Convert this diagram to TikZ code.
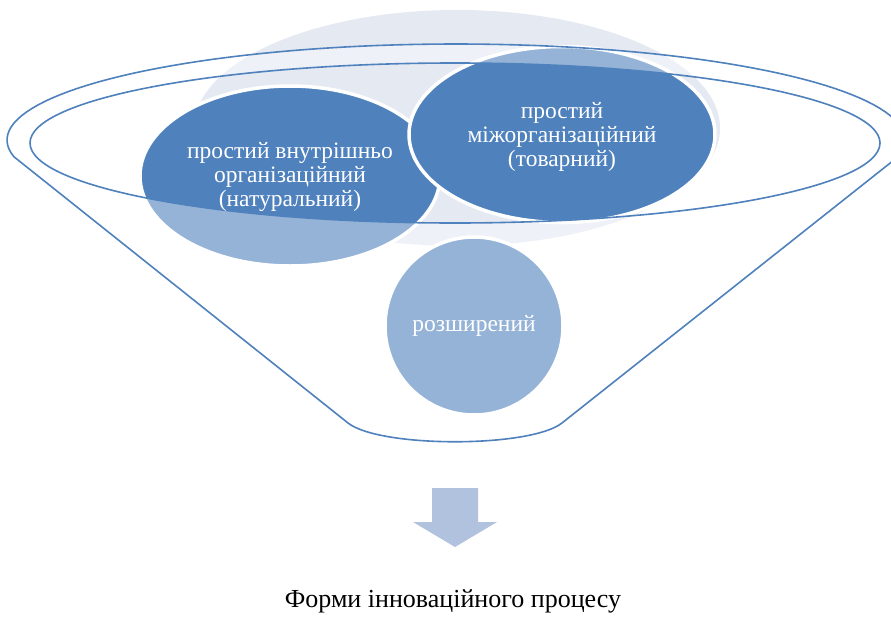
\documentclass[tikz,border=0pt]{standalone}
\usepackage{fontspec}
\setmainfont{Liberation Serif}
\usetikzlibrary{shapes.geometric}
\definecolor{accent}{HTML}{4F81BD}
\definecolor{bgell}{HTML}{E4E9F2}
\definecolor{arrowc}{HTML}{B1C2DE}
\tikzset{
  bubble/.style={ellipse, fill=accent, draw=white, line width=3.5pt, inner sep=0pt},
  bubbletext/.style={text=white, align=center, font=\fontsize{23.5}{24}\selectfont, inner sep=0pt},
  funnelline/.style={draw=accent, line width=1.6pt, line join=round},
  arrowshape/.style={fill=arrowc},
  titletext/.style={text=black, font=\fontsize{26}{30}\selectfont, inner sep=0pt, anchor=base}
}
\begin{document}
\begin{tikzpicture}[x=1pt,y=-1pt]
\useasboundingbox (0,0) rectangle (891,616);
\fill[white] (0,0) rectangle (891,616);
% background light ellipse
\node[ellipse, fill=bgell, minimum width=526, minimum height=236, inner sep=0pt] (bg) at (457,128) {};
% bubbles
\node[bubble, minimum width=300, minimum height=180] (left) at (290,176) {};
\node[bubble, minimum width=306, minimum height=176] (right) at (562,134.5) {};
\node[bubble, circle, minimum size=178] (ext) at (474,326) {};
% funnel body veil (outside the inner rim)
\fill[white, opacity=0.4, even odd rule]
  plot[domain=170:370, samples=90] ({456+449*cos(\x)},{140+96*sin(\x)})
  -- (562,423) .. controls (530,448) and (380,448) .. (348,423) -- cycle
  (455,143) ellipse [x radius=425, y radius=80];
% funnel outline
\draw[funnelline]
  plot[domain=170:370, samples=90] ({456+449*cos(\x)},{140+96*sin(\x)})
  -- (562,423) .. controls (530,448) and (380,448) .. (348,423) -- cycle;
\draw[funnelline] (455,143) ellipse [x radius=425, y radius=80];
% texts
\node[bubbletext] (lefttext) at ([yshift=-1]left.center) {простий внутрішньо\\організаційний\\(натуральний)};
\node[bubbletext] (righttext) at ([yshift=-2]right.center) {простий\\міжорганізаційний\\(товарний)};
\node[bubbletext] (exttext) at (ext.center) {розширений};
% arrow
\fill[arrowshape] (432,488) -- (478,488) -- (478,522) -- (497,522) -- (455,547) -- (413,522) -- (432,522) -- cycle;
% title
\node[titletext] (title) at (453,607) {Форми інноваційного процесу};
\end{tikzpicture}
\end{document}
